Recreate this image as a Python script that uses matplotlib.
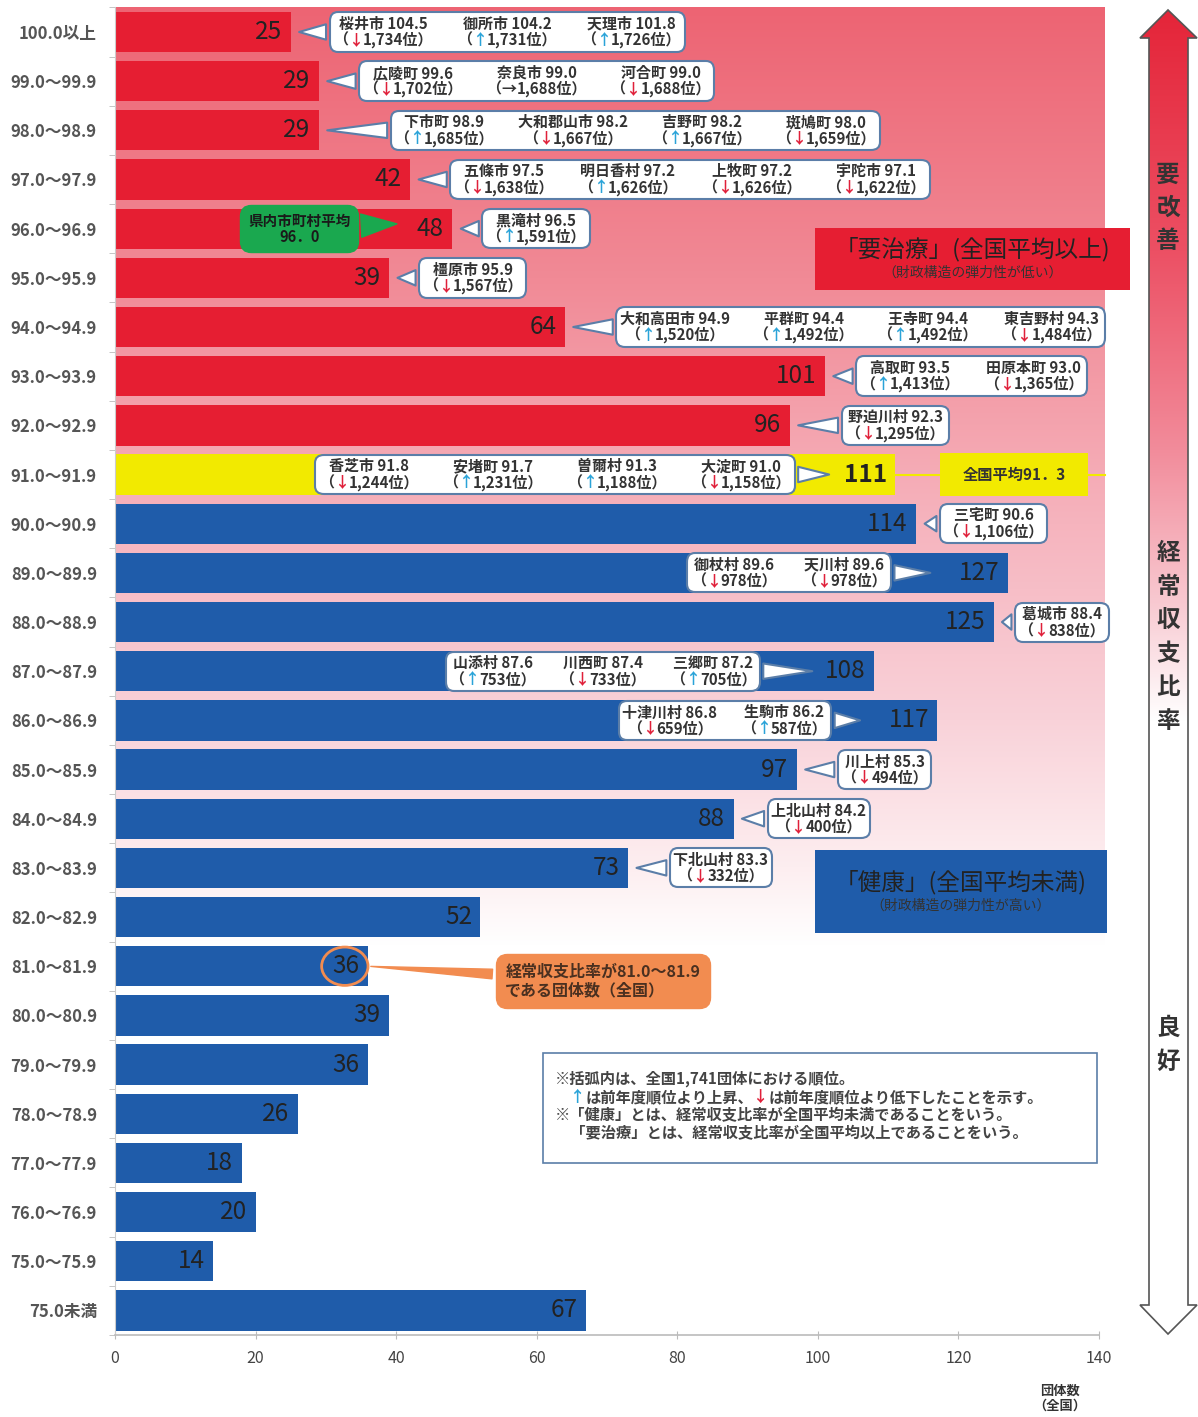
import numpy as np
import matplotlib
matplotlib.use("Agg")
import matplotlib.pyplot as plt
from matplotlib.offsetbox import TextArea, HPacker, VPacker, AnnotationBbox
from matplotlib.patches import Rectangle, Ellipse, Polygon

FAM = ['Noto Sans CJK JP', 'DejaVu Sans']
plt.rcParams['font.family'] = FAM

# ---------------- data ----------------
bins = ['100.0以上', '99.0～99.9', '98.0～98.9', '97.0～97.9', '96.0～96.9', '95.0～95.9',
        '94.0～94.9', '93.0～93.9', '92.0～92.9', '91.0～91.9', '90.0～90.9', '89.0～89.9',
        '88.0～88.9', '87.0～87.9', '86.0～86.9', '85.0～85.9', '84.0～84.9', '83.0～83.9',
        '82.0～82.9', '81.0～81.9', '80.0～80.9', '79.0～79.9', '78.0～78.9', '77.0～77.9',
        '76.0～76.9', '75.0～75.9', '75.0未満']
counts = [25, 29, 29, 42, 48, 39, 64, 101, 96, 111, 114, 127, 125, 108, 117, 97, 88, 73,
          52, 36, 39, 36, 26, 18, 20, 14, 67]
national_avg = 91.3
national_avg_row = 9
pref_avg = 96.0
pref_avg_row = 4
highlight_row = 19
xticks = [0, 20, 40, 60, 80, 100, 120, 140]

callout_rows = [0, 1, 2, 3, 4, 5, 6, 7, 8, 9, 10, 11, 12, 13, 14, 15, 16, 17]
callout_names = [
    ['桜井市', '御所市', '天理市'],
    ['広陵町', '奈良市', '河合町'],
    ['下市町', '大和郡山市', '吉野町', '斑鳩町'],
    ['五條市', '明日香村', '上牧町', '宇陀市'],
    ['黒滝村'],
    ['橿原市'],
    ['大和高田市', '平群町', '王寺町', '東吉野村'],
    ['高取町', '田原本町'],
    ['野迫川村'],
    ['香芝市', '安堵町', '曽爾村', '大淀町'],
    ['三宅町'],
    ['御杖村', '天川村'],
    ['葛城市'],
    ['山添村', '川西町', '三郷町'],
    ['十津川村', '生駒市'],
    ['川上村'],
    ['上北山村'],
    ['下北山村'],
]
callout_ratios = [
    [104.5, 104.2, 101.8],
    [99.6, 99.0, 99.0],
    [98.9, 98.2, 98.2, 98.0],
    [97.5, 97.2, 97.2, 97.1],
    [96.5],
    [95.9],
    [94.9, 94.4, 94.4, 94.3],
    [93.5, 93.0],
    [92.3],
    [91.8, 91.7, 91.3, 91.0],
    [90.6],
    [89.6, 89.6],
    [88.4],
    [87.6, 87.4, 87.2],
    [86.8, 86.2],
    [85.3],
    [84.2],
    [83.3],
]
callout_moves = [
    ['down', 'up', 'up'],
    ['down', 'same', 'down'],
    ['up', 'down', 'up', 'down'],
    ['down', 'up', 'down', 'down'],
    ['up'],
    ['down'],
    ['up', 'up', 'up', 'down'],
    ['up', 'down'],
    ['down'],
    ['down', 'up', 'up', 'down'],
    ['down'],
    ['down', 'down'],
    ['down'],
    ['up', 'down', 'up'],
    ['down', 'up'],
    ['down'],
    ['down'],
    ['down'],
]
callout_ranks = [
    [1734, 1731, 1726],
    [1702, 1688, 1688],
    [1685, 1667, 1667, 1659],
    [1638, 1626, 1626, 1622],
    [1591],
    [1567],
    [1520, 1492, 1492, 1484],
    [1413, 1365],
    [1295],
    [1244, 1231, 1188, 1158],
    [1106],
    [978, 978],
    [838],
    [753, 733, 705],
    [659, 587],
    [494],
    [400],
    [332],
]
total_bodies = 1741

# ---------------- layout (positions only) ----------------
callout_box_x = [55.8, 60.0, 74.0, 81.8, 59.9, 50.9, 106.1, 121.9, 111.0, 62.6,
                 125.0, 95.9, 134.7, 69.4, 86.8, 109.5, 100.1, 86.2]
callout_tip_dx = [0.8, 0.8, 0.8, 0.8, 0.8, 0.8, 0.8, 0.8, 0.8, -9.0,
                  0.8, -10.6, 0.8, -8.4, -10.6, 0.8, 0.8, 0.8]

# ---------------- style ----------------
RED = '#e61e32'
BLUE = '#1f5caa'
YELLOW = '#f2ea00'
GREEN = '#1aa84f'
ORANGE = '#f28c50'
BORDER = '#5b7ea8'
UPC = '#2aa3d8'
DNC = '#e0203a'
TXT = '#333333'

W, H = 1198, 1417
fig = plt.figure(figsize=(W / 100, H / 100), dpi=100)
ax_l, ax_r, ax_t, ax_b = 115, 1099, 7.4, 1335
ax = fig.add_axes([ax_l / W, (H - ax_b) / H, (ax_r - ax_l) / W, (ax_b - ax_t) / H])
n = len(counts)

# background gradient
stops_y = [-0.5, 5, 10, 14, 17, 18.6]
stops_c = np.array([(237, 100, 115), (241, 138, 150), (246, 180, 190), (249, 210, 217),
                    (253, 238, 240), (255, 255, 255)]) / 255
yy = np.linspace(-0.5, 18.6, 300)
grad = np.stack([np.interp(yy, stops_y, stops_c[:, k]) for k in range(3)], axis=-1)[:, None, :]
ax.imshow(grad, extent=[0, 140.8, 18.6, -0.5], aspect='auto', zorder=0, clip_on=False,
          interpolation='bilinear')
ax.set_xlim(0, 140)
ax.set_ylim(n - 0.5, -0.5)

colors = [RED if i < national_avg_row else (YELLOW if i == national_avg_row else BLUE)
          for i in range(n)]
rows = np.arange(n)
ax.barh(rows, counts, height=0.82, color=colors, zorder=2)
for i, c in enumerate(counts):
    ax.text(c - 1.2, i, str(c), ha='right', va='center', fontsize=17.5, color='#222222',
            zorder=5, fontweight='bold' if i == national_avg_row else 'normal')

ax.set_yticks(rows)
ax.set_yticklabels(bins, fontsize=12, fontweight='bold', color='#555555')
ax.set_yticks(np.arange(-0.5, n, 1), minor=True)
ax.tick_params(axis='y', which='major', length=0, pad=13)
ax.tick_params(axis='y', which='minor', length=4, color='#bbbbbb')
ax.set_xticks(xticks)
ax.set_xticklabels([str(t) for t in xticks], fontsize=11.5, color='#444444')
ax.tick_params(axis='x', length=6, direction='inout', color='#bbbbbb', pad=8)
for s in ['top', 'right']:
    ax.spines[s].set_visible(False)
ax.spines['left'].set_color('#cccccc')
ax.spines['bottom'].set_color('#bbbbbb')
ax.spines['bottom'].set_linewidth(1.2)

tp = dict(fontsize=10.8, fontweight='bold', color=TXT, family=FAM)


def rank_line(move, rank):
    parts = [TextArea('（', textprops=tp)]
    if move == 'up':
        parts.append(TextArea('↑', textprops=dict(tp, color=UPC)))
    elif move == 'down':
        parts.append(TextArea('↓', textprops=dict(tp, color=DNC)))
    else:
        parts.append(TextArea('→', textprops=tp))
    parts.append(TextArea(f'{rank:,}位）', textprops=tp))
    return HPacker(children=parts, pad=0, sep=0, align='baseline')


for k, r in enumerate(callout_rows):
    items = []
    for nm, rt, mv, rk in zip(callout_names[k], callout_ratios[k], callout_moves[k],
                              callout_ranks[k]):
        top = TextArea(f'{nm} {rt:.1f}', textprops=tp)
        items.append(VPacker(children=[top, rank_line(mv, rk)], pad=0, sep=0, align='center'))
    box = HPacker(children=items, pad=0, sep=17, align='top')
    tip = counts[r] + callout_tip_dx[k]
    ab = AnnotationBbox(box, xy=(tip, r), xybox=(callout_box_x[k], r), xycoords='data',
                        boxcoords='data', box_alignment=(0.5, 0.5), frameon=True, pad=0.3,
                        bboxprops=dict(boxstyle='round,pad=0.25,rounding_size=0.6',
                                       fc='white', ec=BORDER, lw=1.5),
                        arrowprops=dict(arrowstyle='wedge,tail_width=0.8', fc='white',
                                        ec=BORDER, lw=1.5),
                        zorder=6, annotation_clip=False)
    ax.add_artist(ab)

# prefecture average (green bubble)
gtxt = TextArea('県内市町村平均\n' + f'{pref_avg:.1f}'.replace('.', '．'),
                textprops=dict(fontsize=10.5, color='#1a1a1a', ha='center', family=FAM,
                               fontweight='bold', multialignment='center', linespacing=1.0))
gab = AnnotationBbox(gtxt, xy=(40.5, pref_avg_row - 0.1), xybox=(26.2, pref_avg_row),
                     xycoords='data', boxcoords='data', frameon=True,
                     bboxprops=dict(boxstyle='round,pad=0.55,rounding_size=0.8', fc=GREEN,
                                    ec=GREEN, lw=1),
                     arrowprops=dict(arrowstyle='wedge,tail_width=1.2', fc=GREEN, ec=GREEN),
                     zorder=6)
ax.add_artist(gab)

# national average marker
ax.plot([counts[national_avg_row], 140.8], [national_avg_row, national_avg_row], color=YELLOW,
        lw=1.5, zorder=3, clip_on=False)
ax.add_patch(Rectangle((117.4, national_avg_row - 0.43), 21.0, 0.86, fc=YELLOW, ec='none',
                       zorder=4))
ax.text(127.9, national_avg_row, '全国平均' + f'{national_avg:.1f}'.replace('.', '．'),
        ha='center', va='center', fontsize=11, fontweight='bold', color='#333333', zorder=5)

# category boxes
ax.add_patch(Rectangle((99.6, 3.99), 44.8, 1.26, fc=RED, ec='none', zorder=4, clip_on=False))
ax.text(122.0, 4.42, '「要治療」(全国平均以上)', ha='center', va='center', fontsize=17,
        color='#222222', zorder=5)
ax.text(122.0, 4.9, '（財政構造の弾力性が低い）', ha='center', va='center', fontsize=10,
        color='#333333', zorder=5)
ax.add_patch(Rectangle((99.6, 16.64), 41.5, 1.69, fc=BLUE, ec='none', zorder=4, clip_on=False))
ax.text(120.3, 17.3, '「健康」(全国平均未満)', ha='center', va='center', fontsize=17,
        color='#222222', zorder=5)
ax.text(120.3, 17.77, '（財政構造の弾力性が高い）', ha='center', va='center', fontsize=10,
        color='#333333', zorder=5)

# orange highlight callout
ax.add_patch(Ellipse((32.7, highlight_row), 6.6, 0.78, fc='none', ec=ORANGE, lw=2, zorder=6))
otxt = TextArea(f'経常収支比率が{bins[highlight_row]}\nである団体数（全国）',
                textprops=dict(fontsize=11.5, fontweight='bold', color='#4a3020', family=FAM,
                               linespacing=1.15))
oab = AnnotationBbox(otxt, xy=(36.0, highlight_row), xybox=(69.4, highlight_row + 0.3),
                     xycoords='data', boxcoords='data', frameon=True,
                     bboxprops=dict(boxstyle='round,pad=0.7,rounding_size=0.8', fc=ORANGE,
                                    ec=ORANGE),
                     arrowprops=dict(arrowstyle='wedge,tail_width=0.5', fc=ORANGE, ec=ORANGE),
                     zorder=6)
ax.add_artist(oab)

# note box
ax.add_patch(Rectangle((60.9, 20.77), 78.8, 2.24, fc='white', ec=BORDER, lw=1.2, zorder=4))
ntp = dict(fontsize=11, fontweight='bold', color='#444444', family=FAM)
line1 = TextArea(f'※括弧内は、全国{total_bodies:,}団体における順位。', textprops=ntp)
line2 = HPacker(children=[TextArea('　', textprops=ntp),
                          TextArea('↑', textprops=dict(ntp, color=UPC)),
                          TextArea('は前年度順位より上昇、', textprops=ntp),
                          TextArea('↓', textprops=dict(ntp, color=DNC)),
                          TextArea('は前年度順位より低下したことを示す。', textprops=ntp)],
                pad=0, sep=0, align='baseline')
line3 = TextArea('※「健康」とは、経常収支比率が全国平均未満であることをいう。', textprops=ntp)
line4 = TextArea('　「要治療」とは、経常収支比率が全国平均以上であることをいう。', textprops=ntp)
notes = VPacker(children=[line1, line2, line3, line4], pad=0, sep=1.5, align='left')
nab = AnnotationBbox(notes, xy=(62.6, 21.12), xycoords='data', box_alignment=(0, 1),
                     frameon=False, zorder=5)
ax.add_artist(nab)

# x label
fig.text(1060 / W, 1 - 1398 / H, '団体数\n（全国）', ha='center', va='center', fontsize=9.5,
         fontweight='bold', color='#333333', linespacing=1.1)

# right vertical arrow
ax2 = fig.add_axes([1138 / W, 0, 60 / W, 1])
ax2.axis('off')
pts = [(1168, 10), (1197, 38), (1188, 38), (1188, 1305), (1197, 1305), (1168, 1334),
       (1140, 1305), (1149, 1305), (1149, 38), (1140, 38)]
ay = [0, 250, 450, 600, 720, 1417]
ac = np.array([(228, 35, 55), (236, 80, 100), (242, 140, 155), (248, 200, 208),
               (255, 255, 255), (255, 255, 255)]) / 255
y2 = np.linspace(0, H, 500)
g2 = np.stack([np.interp(y2, ay, ac[:, k]) for k in range(3)], axis=-1)[:, None, :]
im = ax2.imshow(g2, extent=[1138, 1198, H, 0], aspect='auto', zorder=1)
ax2.set_xlim(1138, 1198)
ax2.set_ylim(H, 0)
clip = Polygon(pts, closed=True, transform=ax2.transData)
im.set_clip_path(clip)
ax2.add_patch(Polygon(pts, closed=True, fc='none', ec='#555555', lw=1.2, zorder=3))
vt = dict(ha='center', va='center', fontsize=17, fontweight='bold', color='#333333',
          linespacing=1.5, zorder=4)
ax2.text(1168, 208, '要\n改\n善', **vt)
ax2.text(1168, 637, '経\n常\n収\n支\n比\n率', **vt)
ax2.text(1168, 1045, '良\n好', **vt)

fig.savefig('out.png', dpi=100)
